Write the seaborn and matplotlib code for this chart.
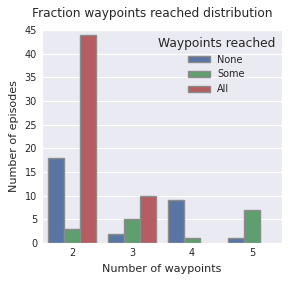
import numpy as np
import pandas as pd
import matplotlib
matplotlib.use("Agg")
import matplotlib.pyplot as plt
import seaborn as sns

waypoints = [2, 3, 4, 5]
outcomes = ["None", "Some", "All"]
none_counts = [18, 2, 9, 1]
some_counts = [3, 5, 1, 7]
all_counts = [44, 10, np.nan, np.nan]

rows = []
for i, w in enumerate(waypoints):
    rows.append((w, "None", none_counts[i]))
    rows.append((w, "Some", some_counts[i]))
    rows.append((w, "All", all_counts[i]))
df = pd.DataFrame(rows, columns=["waypoints", "reached", "episodes"])

sns.set_style("darkgrid")
plt.rcParams['font.family'] = ['DejaVu Sans']

fig = plt.figure(figsize=(2.91, 2.82), dpi=100)
ax = fig.add_axes([0.144, 0.138, 0.825, 0.756])
palette = ["#4C72B0", "#55A868", "#C44E52"]
sns.barplot(data=df, x="waypoints", y="episodes", hue="reached",
            hue_order=outcomes, palette=palette, saturation=0.75,
            edgecolor="0.55", linewidth=1, ax=ax)

ax.set_ylim(0, 45)
ax.set_yticks(range(0, 46, 5))
ax.set_title("Fraction waypoints reached distribution", fontsize=8.7,
             color="0.15", x=0.46, pad=9)
ax.set_xlabel("Number of waypoints", fontsize=8, color="0.15")
ax.set_ylabel("Number of episodes", fontsize=8, color="0.15")
ax.tick_params(labelsize=7, colors="0.15", length=0)
leg = ax.legend(title="Waypoints reached", loc="upper right", frameon=False,
                fontsize=7, title_fontsize=8.8, handlelength=2.2, handleheight=0.6,
                borderaxespad=0.3)
leg.get_title().set_color("0.15")

fig.savefig("out.png", dpi=100)
